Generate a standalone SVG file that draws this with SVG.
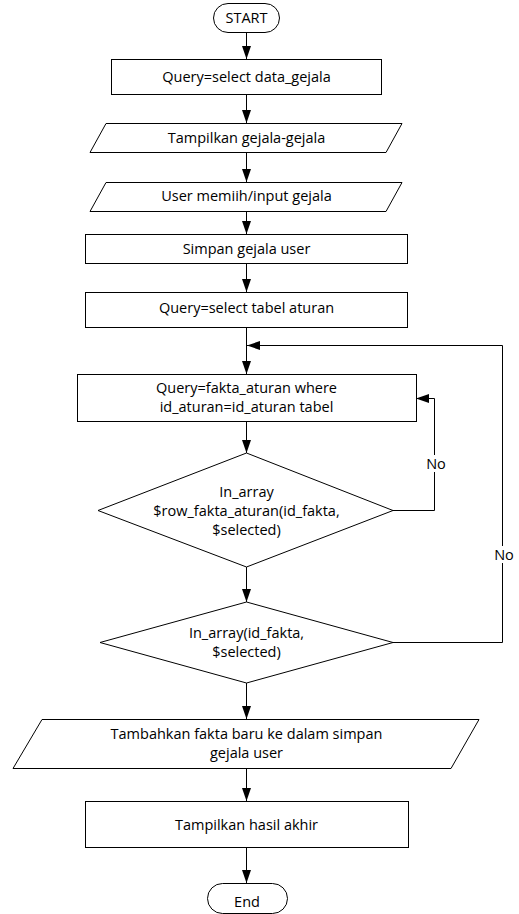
<svg xmlns="http://www.w3.org/2000/svg" width="519" height="914" viewBox="0 0 519 914">
<style>
.s{fill:#fff;stroke:#000;stroke-width:1}
.c{fill:none;stroke:#000;stroke-width:1}
text{font-family:"Open Sans","Noto Sans",sans-serif;font-size:14.5px;fill:#000;text-anchor:middle}
.lbl{fill:#fff;stroke:none}
</style>
<defs>
<marker id="ah" markerUnits="userSpaceOnUse" markerWidth="13" markerHeight="9" refX="13" refY="4.5" orient="auto">
<path d="M0,0 L13,4.5 L0,9 z" fill="#000"/>
</marker>
</defs>
<rect width="519" height="914" fill="#fff"/>
<g id="connectors">
<line class="c" x1="246.5" y1="32" x2="246.5" y2="59" marker-end="url(#ah)"/>
<line class="c" x1="246.5" y1="94" x2="246.5" y2="123" marker-end="url(#ah)"/>
<line class="c" x1="246.5" y1="152" x2="246.5" y2="182" marker-end="url(#ah)"/>
<line class="c" x1="246.5" y1="211" x2="246.5" y2="234" marker-end="url(#ah)"/>
<line class="c" x1="246.5" y1="263" x2="246.5" y2="292" marker-end="url(#ah)"/>
<line class="c" x1="246.5" y1="327" x2="246.5" y2="374" marker-end="url(#ah)"/>
<line class="c" x1="246.5" y1="421" x2="246.5" y2="453" marker-end="url(#ah)"/>
<line class="c" x1="246.5" y1="567" x2="246.5" y2="602" marker-end="url(#ah)"/>
<line class="c" x1="246.5" y1="683" x2="246.5" y2="719" marker-end="url(#ah)"/>
<line class="c" x1="246.5" y1="768" x2="246.5" y2="801" marker-end="url(#ah)"/>
<line class="c" x1="246.5" y1="847" x2="246.5" y2="883" marker-end="url(#ah)"/>
<polyline class="c" points="393,510.5 434.5,510.5 434.5,398.5 416,398.5" marker-end="url(#ah)"/>
<polyline class="c" points="393,642.5 502.5,642.5 502.5,345.5 247,345.5" marker-end="url(#ah)"/>
<rect class="lbl" x="424" y="455" width="22" height="17"/>
<text x="436" y="469">No</text>
<rect class="lbl" x="492" y="546" width="22" height="17"/>
<text x="504" y="560">No</text>
</g>
<g id="start">
<rect class="s" x="213.5" y="3.5" width="66" height="29" rx="14.5"/>
<text x="246.5" y="23">START</text>
</g>
<g id="query-data-gejala">
<rect class="s" x="111.5" y="59.5" width="270" height="35"/>
<text x="246.5" y="82">Query=select data_gejala</text>
</g>
<g id="tampilkan-gejala">
<polygon class="s" points="106,123.5 402,123.5 386,152.5 90,152.5"/>
<text x="246.5" y="143">Tampilkan gejala-gejala</text>
</g>
<g id="user-input">
<polygon class="s" points="106,182.5 402,182.5 386,211.5 90,211.5"/>
<text x="246.5" y="201">User memiih/input gejala</text>
</g>
<g id="simpan-gejala">
<rect class="s" x="85.5" y="234.5" width="322" height="29"/>
<text x="246.5" y="254">Simpan gejala user</text>
</g>
<g id="query-tabel-aturan">
<rect class="s" x="85.5" y="292.5" width="322" height="35"/>
<text x="246.5" y="313">Query=select tabel aturan</text>
</g>
<g id="query-fakta-aturan">
<rect class="s" x="77.5" y="374.5" width="339" height="47"/>
<text x="246.5" y="393">Query=fakta_aturan where</text>
<text x="246.5" y="412">id_aturan=id_aturan tabel</text>
</g>
<g id="decision-row-fakta">
<polygon class="s" points="246.5,453 393,510.5 246.5,567 98,510.5"/>
<text x="246.5" y="497">In_array</text>
<text x="246.5" y="516">$row_fakta_aturan(id_fakta,</text>
<text x="246.5" y="535">$selected)</text>
</g>
<g id="decision-id-fakta">
<polygon class="s" points="246.5,602 393,642.5 246.5,683 100,642.5"/>
<text x="246.5" y="638">In_array(id_fakta,</text>
<text x="246.5" y="657">$selected)</text>
</g>
<g id="tambahkan-fakta">
<polygon class="s" points="42,719.5 479,719.5 451,768.5 13,768.5"/>
<text x="246.5" y="739">Tambahkan fakta baru ke dalam simpan</text>
<text x="246.5" y="758">gejala user</text>
</g>
<g id="tampilkan-hasil">
<rect class="s" x="85.5" y="801.5" width="323" height="46"/>
<text x="246.5" y="830">Tampilkan hasil akhir</text>
</g>
<g id="end">
<rect class="s" x="207.5" y="883.5" width="80" height="30" rx="15"/>
<text x="247" y="907">End</text>
</g>
</svg>
